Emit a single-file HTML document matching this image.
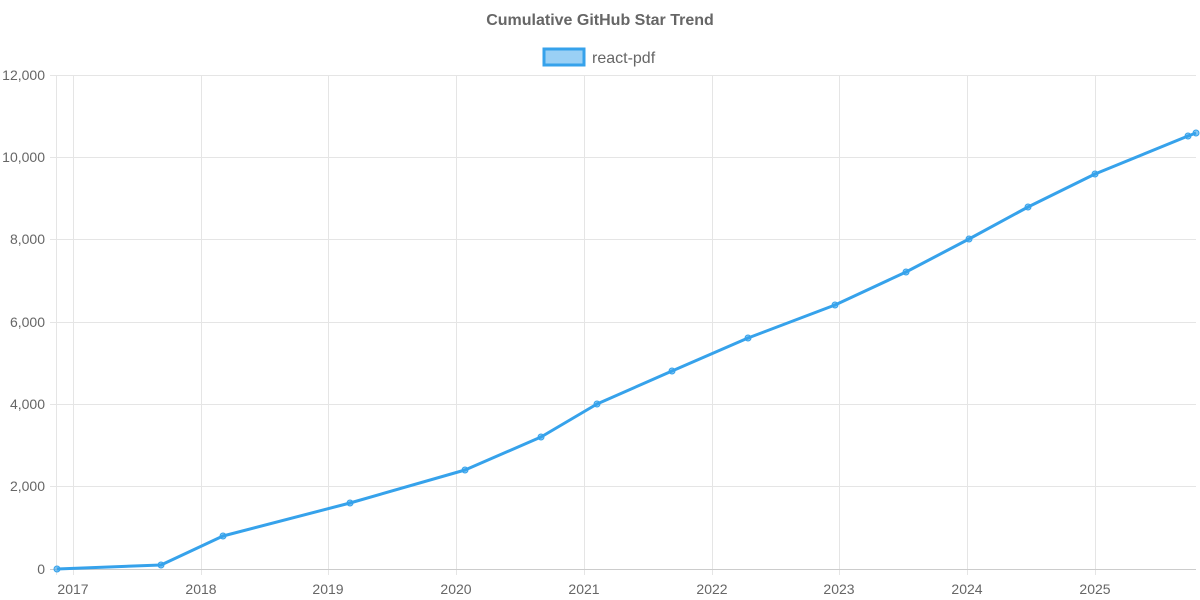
<!DOCTYPE html>
<html><head><meta charset="utf-8"><style>html,body{margin:0;padding:0;background:#fff}svg{display:block}</style></head>
<body>
<svg width="1200" height="600" xmlns="http://www.w3.org/2000/svg" font-family="Liberation Sans, sans-serif">
<text x="600" y="25" text-anchor="middle" font-size="16" font-weight="bold" fill="#666">Cumulative GitHub Star Trend</text>
<rect x="544" y="49" width="40" height="16" fill="rgba(54,162,235,0.5)" stroke="#36a2eb" stroke-width="3"/>
<text x="592" y="63" font-size="16" fill="#666">react-pdf</text>
<g stroke="#e5e5e5" stroke-width="1">
<line x1="50" y1="75.5" x2="1196" y2="75.5"/>
<line x1="50" y1="157.5" x2="1196" y2="157.5"/>
<line x1="50" y1="239.5" x2="1196" y2="239.5"/>
<line x1="50" y1="322.5" x2="1196" y2="322.5"/>
<line x1="50" y1="404.5" x2="1196" y2="404.5"/>
<line x1="50" y1="486.5" x2="1196" y2="486.5"/>
<line x1="56.5" y1="75" x2="56.5" y2="575"/>
<line x1="73.5" y1="75" x2="73.5" y2="575"/>
<line x1="201.5" y1="75" x2="201.5" y2="575"/>
<line x1="328.5" y1="75" x2="328.5" y2="575"/>
<line x1="456.5" y1="75" x2="456.5" y2="575"/>
<line x1="584.5" y1="75" x2="584.5" y2="575"/>
<line x1="712.5" y1="75" x2="712.5" y2="575"/>
<line x1="839.5" y1="75" x2="839.5" y2="575"/>
<line x1="967.5" y1="75" x2="967.5" y2="575"/>
<line x1="1095.5" y1="75" x2="1095.5" y2="575"/>
</g>
<line x1="50" y1="569.5" x2="1196" y2="569.5" stroke="#ccc"/>
<g font-size="14" fill="#666" text-anchor="end">
<text x="45" y="80">12,000</text><text x="45" y="162">10,000</text><text x="45" y="244">8,000</text>
<text x="45" y="327">6,000</text><text x="45" y="409">4,000</text><text x="45" y="491">2,000</text><text x="45" y="574">0</text>
</g>
<g font-size="14" fill="#666" text-anchor="middle">
<text x="73" y="594">2017</text><text x="201" y="594">2018</text><text x="328" y="594">2019</text><text x="456" y="594">2020</text>
<text x="584" y="594">2021</text><text x="712" y="594">2022</text><text x="839" y="594">2023</text><text x="967" y="594">2024</text><text x="1095" y="594">2025</text>
</g>
<polyline fill="none" stroke="#36a2eb" stroke-width="3" stroke-linejoin="round" points="57,569 161,565 223,536 350,503 465,470 541,437 597,404 672,371 748,338 835,305 906,272 969,239 1028,207 1095,174 1188,136 1196,133"/>
<g fill="rgba(54,162,235,0.6)" stroke="#36a2eb" stroke-width="1">
<circle cx="57" cy="569" r="3"/><circle cx="161" cy="565" r="3"/><circle cx="223" cy="536" r="3"/><circle cx="350" cy="503" r="3"/>
<circle cx="465" cy="470" r="3"/><circle cx="541" cy="437" r="3"/><circle cx="597" cy="404" r="3"/><circle cx="672" cy="371" r="3"/>
<circle cx="748" cy="338" r="3"/><circle cx="835" cy="305" r="3"/><circle cx="906" cy="272" r="3"/><circle cx="969" cy="239" r="3"/>
<circle cx="1028" cy="207" r="3"/><circle cx="1095" cy="174" r="3"/><circle cx="1188" cy="136" r="3"/><circle cx="1196" cy="133" r="3"/>
</g>
</svg>
</body></html>
